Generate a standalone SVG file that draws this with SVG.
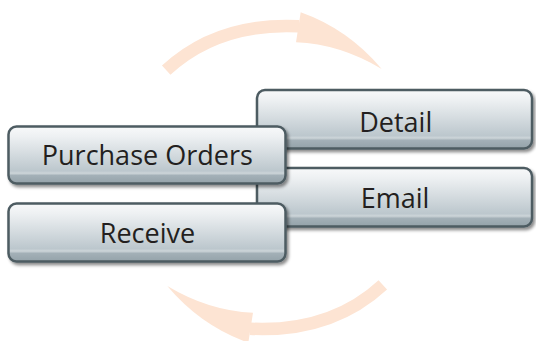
<svg xmlns="http://www.w3.org/2000/svg" width="536" height="341" viewBox="0 0 536 341">
<defs>
<linearGradient id="boxFill" x1="0" y1="0" x2="0" y2="1">
<stop offset="0" stop-color="#f8f9fa"/>
<stop offset="0.18" stop-color="#edf0f2"/>
<stop offset="0.78" stop-color="#bcc7cd"/>
<stop offset="0.82" stop-color="#cdd5d9"/>
<stop offset="0.86" stop-color="#a3b0b7"/>
<stop offset="1" stop-color="#94a2a9"/>
</linearGradient>
<filter id="shadow" x="-5%" y="-10%" width="115%" height="130%">
<feDropShadow dx="2" dy="2.5" stdDeviation="1.5" flood-color="#000" flood-opacity="0.45"/>
</filter>
<g id="arrow">
<path d="M166.2,70.2 C202.9,36.2 248.5,23.8 299,26.3" fill="none" stroke="#fde4d3" stroke-width="12.5"/>
<path d="M300.7,12.3 Q348,29 381.7,69 Q340,44 296,42.3 Z" fill="#fde4d3"/>
</g>
</defs>
<style>
.box{fill:url(#boxFill);stroke:#4e5c62;stroke-width:2.5;filter:url(#shadow)}
.lbl{font-family:"Open Sans","Noto Sans",sans-serif;font-size:27px;fill:#231f20;text-anchor:middle}
</style>
<g id="connectors">
<use href="#arrow"/>
<use href="#arrow" transform="rotate(180 274.5 177.5)"/>
</g>
<g id="detail">
<rect class="box" x="257" y="90" width="275" height="58.5" rx="8"/>
<text class="lbl" x="395.7" y="131.7">Detail</text>
</g>
<g id="email">
<rect class="box" x="257" y="168" width="275" height="58.5" rx="8"/>
<text class="lbl" x="395" y="208.3">Email</text>
</g>
<g id="purchase-orders">
<rect class="box" x="8.5" y="126.5" width="277" height="57" rx="8"/>
<text class="lbl" x="147.3" y="165">Purchase Orders</text>
</g>
<g id="receive">
<rect class="box" x="8.5" y="203.5" width="277" height="58" rx="8"/>
<text class="lbl" x="147.5" y="243.3">Receive</text>
</g>
</svg>
